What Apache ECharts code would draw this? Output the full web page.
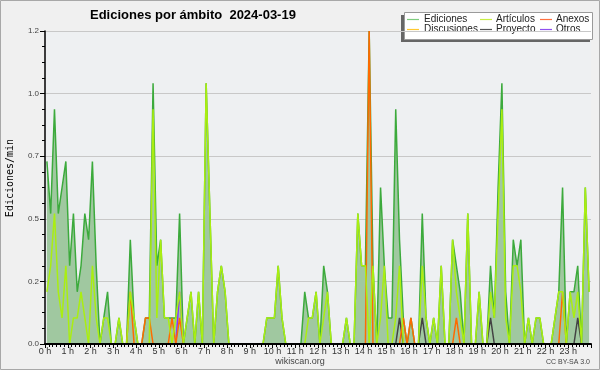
<!DOCTYPE html>
<html><head><meta charset="utf-8">
<script src="https://cdn.jsdelivr.net/npm/echarts/dist/echarts.min.js"></script>
<style>html,body{margin:0;padding:0;background:#f0f0f0}#c{width:600px;height:370px}</style>
</head><body><div id="c"></div>
<script>
// 10-minute bins, 6 per hour, values in edits per minute
const binsPerHour = 6;
const hourTicks = [0,1,2,3,4,5,6,7,8,9,10,11,12,13,14,15,16,17,18,19,20,21,22,23];
const legendNames = ['Ediciones','Artículos','Anexos','Discusiones','Proyecto','Otros'];
const ediciones = [
  0.7,0.5,0.9,0.5,0.6,0.7,  0.3,0.5,0.2,0.3,0.5,0.4,  0.7,0.3,0,0.1,0.2,0,  0,0.1,0,0,0.4,0.1,
  0,0,0.1,0.1,1.0,0.3,  0.4,0.1,0.1,0.1,0.1,0.5,  0,0.1,0.2,0,0.2,0,  1.0,0.5,0,0.2,0.3,0.2,
  0,0,0,0,0,0,  0,0,0,0,0.1,0.1,  0.1,0.3,0.1,0,0,0,  0,0,0.2,0.1,0.1,0.2,
  0,0.3,0.2,0,0,0,  0,0.1,0,0,0.5,0.3,  0.3,1.2,0.3,0,0.6,0.3,  0.1,0.1,0.9,0.4,0.1,0,
  0.1,0,0,0.5,0.1,0,  0.1,0,0.3,0,0,0.4,  0.3,0.2,0,0.5,0,0,  0.2,0,0,0.3,0.1,0.6,
  1.0,0.2,0,0.4,0.3,0.4,  0,0.1,0,0.1,0.1,0,  0,0,0.1,0.2,0.6,0,  0.2,0.2,0.3,0,0.6,0.2
];
const articulos = [
  0.2,0.3,0.5,0.2,0.1,0.3,  0,0.1,0.1,0.2,0.1,0,  0.3,0.1,0,0.1,0.1,0,  0,0.1,0,0,0.2,0.1,
  0,0,0,0,0.9,0.1,  0.4,0.1,0.1,0,0.1,0.2,  0,0.1,0.2,0,0.2,0,  1.0,0.5,0,0.2,0.3,0.2,
  0,0,0,0,0,0,  0,0,0,0,0.1,0.1,  0.1,0.3,0.1,0,0,0,  0,0,0,0.1,0.1,0.2,
  0,0.1,0.2,0,0,0,  0,0.1,0,0,0.5,0.3,  0.3,0,0.3,0,0.1,0.3,  0,0,0.1,0.3,0,0,
  0,0,0,0.3,0.1,0,  0.1,0,0.3,0,0,0.4,  0.2,0.1,0,0.5,0,0,  0.2,0,0,0.2,0.1,0.5,
  0.9,0.1,0,0.3,0.3,0.2,  0,0.1,0,0.1,0.1,0,  0,0,0.1,0.2,0.2,0,  0.2,0.1,0.2,0,0.6,0.2
];
const anexos = [
  0,0,0,0,0,0,  0,0,0,0,0,0,  0,0,0,0,0,0,  0,0,0,0,0.2,0,
  0,0,0.1,0.1,0,0,  0,0,0,0.1,0,0.1,  0,0,0,0,0,0,  0,0,0,0,0,0,
  0,0,0,0,0,0,  0,0,0,0,0,0,  0,0,0,0,0,0,  0,0,0,0,0,0,
  0,0,0,0,0,0,  0,0,0,0,0,0,  0,1.2,0,0,0,0,  0,0,0,0,0.1,0,
  0.1,0,0,0,0,0,  0,0,0,0,0,0,  0.1,0,0,0,0,0,  0,0,0,0,0,0,
  0,0,0,0,0,0,  0,0,0,0,0,0,  0,0,0,0,0.2,0,  0,0,0,0,0,0
];
const discusiones = new Array(144).fill(0);
const proyecto = [
  0,0,0,0,0,0,  0,0,0,0,0,0,  0,0,0,0,0,0,  0,0,0,0,0,0,
  0,0,0,0,0,0,  0,0,0,0,0,0,  0,0,0,0,0,0,  0,0,0,0,0,0,
  0,0,0,0,0,0,  0,0,0,0,0,0,  0,0,0,0,0,0,  0,0,0,0,0,0,
  0,0,0,0,0,0,  0,0,0,0,0,0,  0,0,0,0,0,0,  0,0,0,0.1,0,0,
  0,0,0,0.1,0,0,  0,0,0,0,0,0,  0,0,0,0,0,0,  0,0,0,0.1,0,0,
  0,0,0,0,0,0,  0,0,0,0,0,0,  0,0,0,0,0,0,  0,0,0.1,0,0,0
];
const otros = [
  0,0,0,0,0,0,  0,0,0,0,0,0,  0,0,0,0,0,0,  0,0,0,0,0,0,
  0,0,0,0,0,0,  0,0,0,0,0,0.2,  0,0,0,0,0,0,  0,0,0,0,0,0,
  0,0,0,0,0,0,  0,0,0,0,0,0,  0,0,0,0,0,0,  0,0,0,0,0,0,
  0,0,0,0,0,0,  0,0,0,0,0,0,  0,0,0,0,0,0,  0,0,0,0,0,0,
  0,0,0,0,0,0,  0,0,0,0,0,0,  0,0,0,0,0,0,  0,0,0,0,0,0,
  0,0,0,0,0,0,  0,0,0,0,0,0,  0,0,0,0,0,0,  0,0,0,0,0,0
];

const pts = arr => arr.map((v, i) => [(i + 0.5) / binsPerHour, v]);
const FF = '"Liberation Sans", Arial, sans-serif';
const lineColors = ['#3caa3c', '#aaee11', '#ff6a00', '#ffcc33', '#444444', '#8833ff'];
const swatchColors = ['#7fcc7f', '#c8ee44', '#ff7040', '#ffc830', '#555555', '#9050f0'];
const seriesData = [ediciones, articulos, anexos, discusiones, proyecto, otros];

const chart = echarts.init(document.getElementById('c'), null, {renderer: 'canvas'});

const series = [];
series.push({
  name: legendNames[0], type: 'line', data: pts(ediciones), showSymbol: false, symbol: 'none',
  lineStyle: {color: lineColors[0], width: 1.5}, itemStyle: {color: lineColors[0]},
  areaStyle: {color: '#a0c8a0', opacity: 1}, z: 2
});
[3, 4, 5, 2, 1].forEach((k, n) => {
  series.push({
    name: legendNames[k], type: 'line', data: pts(seriesData[k]), showSymbol: false, symbol: 'none',
    lineStyle: {color: lineColors[k], width: 1.5}, itemStyle: {color: lineColors[k]}, z: 3 + n
  });
});

const legCols = [[407, 424], [480, 496], [540, 556]];
const legRows = [19.5, 29.5];
const legendChildren = [
  {type: 'rect', shape: {x: 401, y: 15, width: 189, height: 27}, style: {fill: '#666666'}},
  {type: 'rect', shape: {x: 404.5, y: 12.5, width: 188, height: 27}, style: {fill: '#ffffff', stroke: '#9a9a9a', lineWidth: 1}}
];
legendNames.forEach((nm, k) => {
  const col = legCols[k % 3], row = legRows[Math.floor(k / 3)];
  legendChildren.push({type: 'line', shape: {x1: col[0], y1: row, x2: col[0] + 12, y2: row}, style: {stroke: swatchColors[k], lineWidth: 1.2}});
  legendChildren.push({type: 'text', x: col[1], y: row, style: {text: nm, fill: '#222', font: '10px ' + FF, textAlign: 'left', textVerticalAlign: 'middle'}});
});

chart.setOption({
  backgroundColor: '#f0f0f0',
  animation: false,
  title: {text: 'Ediciones por ámbito  2024-03-19', left: 85, top: 4,
    textStyle: {fontFamily: FF, fontSize: 13, fontWeight: 'bold', color: '#000'}},
  grid: {left: 45, right: 9, top: 31, bottom: 26, show: true, backgroundColor: '#eef0f2', borderWidth: 0},
  xAxis: {
    type: 'value', min: 0, max: 24, interval: 1, z: 10,
    axisLine: {onZero: false, lineStyle: {color: '#000', width: 2}},
    axisTick: {show: true, length: 4, lineStyle: {color: '#000', width: 1}},
    minorTick: {show: true, splitNumber: binsPerHour, length: 3, lineStyle: {color: '#000', width: 1}},
    splitLine: {show: false},
    axisLabel: {formatter: v => (hourTicks.indexOf(v) >= 0 ? v + ' h' : ''), showMaxLabel: false,
      fontSize: 9, color: '#333', margin: 3, fontFamily: FF}
  },
  yAxis: {
    type: 'value', min: 0, max: 1.2, interval: 0.24,
    axisLine: {show: true, lineStyle: {color: '#000', width: 1.5}},
    axisTick: {show: true, length: 5, lineStyle: {color: '#000', width: 1}},
    minorTick: {show: true, splitNumber: 4, length: 3, lineStyle: {color: '#000', width: 1}},
    splitLine: {show: true, lineStyle: {color: '#c8c8c8', width: 1}},
    axisLabel: {formatter: v => v.toFixed(1), fontSize: 8, color: '#444', margin: 6, fontFamily: FF}
  },
  series: series,
  graphic: [
    {type: 'rect', silent: true, z: 100, shape: {x: 0.5, y: 0.5, width: 599, height: 369}, style: {fill: 'none', stroke: '#a8a8a8', lineWidth: 1}},
    {type: 'text', x: 10, y: 178, rotation: Math.PI / 2, style: {text: 'Ediciones/min', fill: '#000', font: '10px "DejaVu Sans Mono", monospace', textAlign: 'center', textVerticalAlign: 'middle'}},
    {type: 'text', x: 300, y: 362, style: {text: 'wikiscan.org', fill: '#444', font: '9px ' + FF, textAlign: 'center', textVerticalAlign: 'middle'}},
    {type: 'text', x: 590, y: 362.5, style: {text: 'CC BY-SA 3.0', fill: '#444', font: '7px ' + FF, textAlign: 'right', textVerticalAlign: 'middle'}},
    {type: 'group', z: 50, children: legendChildren}
  ]
});
</script>
</body></html>
